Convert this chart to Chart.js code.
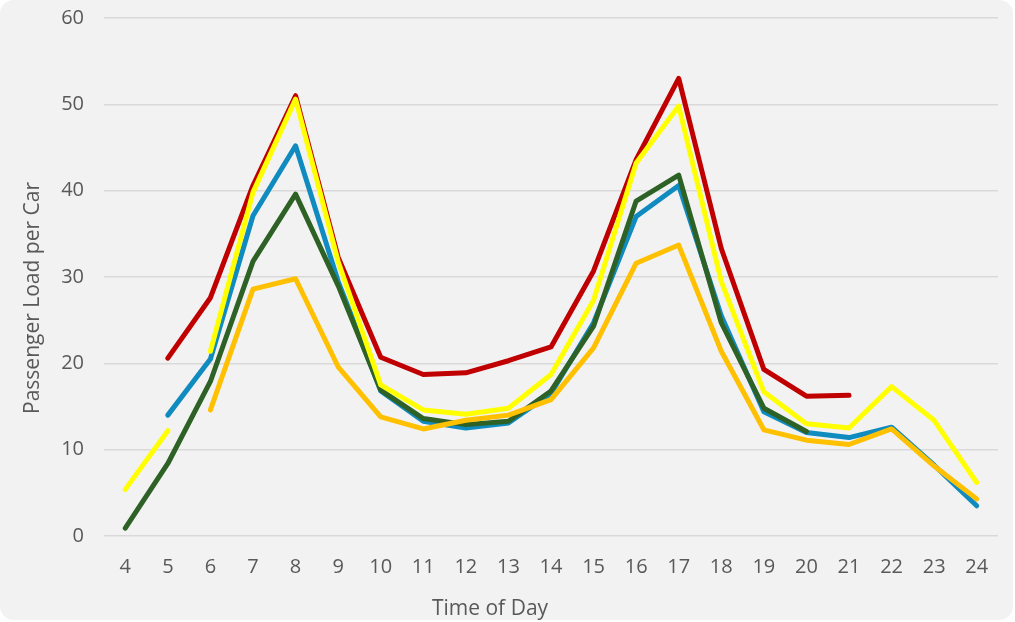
<!DOCTYPE html>
<html>
<head>
<meta charset="utf-8">
<script src="https://cdn.jsdelivr.net/npm/chart.js@4/dist/chart.umd.min.js"></script>
<style>
  html, body { margin: 0; padding: 0; background: #ffffff; }
  #wrap { position: relative; width: 1013px; height: 620px; background: #F2F2F2; border-radius: 14px; overflow: hidden; }
  canvas { display: block; }
</style>
</head>
<body>
<div id="wrap"><canvas id="c" width="1013" height="620"></canvas></div>
<script>
// ---- data ----
const hours = ['4','5','6','7','8','9','10','11','12','13','14','15','16','17','18','19','20','21','22','23','24'];
const yTicks = [0, 10, 20, 30, 40, 50, 60];
const xTitle = 'Time of Day';
const yTitle = 'Passenger Load per Car';

const redLoad    = [null, 20.6, 27.6, 40.6, 51.0, 32.3, 20.7, 18.7, 18.9, 20.3, 21.9, 30.7, 43.6, 53.0, 33.3, 19.3, 16.2, 16.3, null, null, null];
const yellowEarly= [5.4, 12.2, null, null, null, null, null, null, null, null, null, null, null, null, null, null, null, null, null, null, null];
const yellowLoad = [null, null, 21.4, 39.8, 50.6, 31.8, 17.5, 14.6, 14.1, 14.8, 18.7, 27.3, 43.2, 49.8, 29.5, 16.7, 13.0, 12.5, 17.3, 13.4, 6.2];
const blueLoad   = [null, 14.0, 20.5, 37.1, 45.2, 29.5, 16.8, 13.3, 12.5, 13.1, 16.5, 24.7, 37.0, 40.6, 25.5, 14.4, 12.0, 11.4, 12.6, 8.2, 3.5];
const greenLoad  = [0.9, 8.4, 17.9, 31.8, 39.6, 29.0, 16.9, 13.6, 12.9, 13.3, 16.8, 24.3, 38.8, 41.8, 24.7, 14.8, 12.1, null, null, null, null];
const orangeLoad = [null, null, 14.6, 28.6, 29.8, 19.6, 13.8, 12.4, 13.4, 14.0, 15.8, 21.8, 31.6, 33.7, 21.4, 12.3, 11.1, 10.6, 12.4, 8.1, 4.3];

const FONT = "'Open Sans', 'Noto Sans', sans-serif";
const TEXT = '#595959';

function ds(label, data, color, order) {
  return {
    label, data, borderColor: color, backgroundColor: color,
    borderWidth: 5, pointRadius: 0, pointHoverRadius: 0, tension: 0,
    borderCapStyle: 'round', borderJoinStyle: 'round', spanGaps: false, order
  };
}

const titlePlugin = {
  id: 'titles',
  afterDraw(chart) {
    const ctx = chart.ctx;
    ctx.save();
    ctx.fillStyle = TEXT;
    ctx.font = "21px " + FONT;
    ctx.textAlign = 'center';
    ctx.textBaseline = 'alphabetic';
    ctx.fillText(xTitle, 490, 615);
    ctx.translate(39, 298);
    ctx.rotate(-Math.PI / 2);
    ctx.fillText(yTitle, 0, 0);
    ctx.restore();
  }
};

new Chart(document.getElementById('c'), {
  type: 'line',
  data: {
    labels: hours,
    datasets: [
      ds('Red', redLoad, '#C00000', 5),
      ds('Blue', blueLoad, '#0F8BBF', 4),
      ds('Green', greenLoad, '#2E6125', 3),
      ds('Yellow', yellowLoad, '#FFFF00', 2),
      ds('Yellow early', yellowEarly, '#FFFF00', 2),
      ds('Orange', orangeLoad, '#FFC000', 1)
    ]
  },
  options: {
    responsive: false,
    animation: false,
    events: [],
    layout: { autoPadding: false, padding: { top: 18, right: 15, left: 0, bottom: 0 } },
    plugins: { legend: { display: false }, tooltip: { enabled: false }, title: { display: false } },
    scales: {
      x: {
        type: 'category',
        offset: true,
        grid: { display: false, drawTicks: false },
        border: { display: false },
        ticks: { color: TEXT, font: { family: FONT, size: 20 }, padding: 19, maxRotation: 0, autoSkip: false },
        afterFit(s) { s.height = 84; s.paddingLeft = 0; s.paddingRight = 0; }
      },
      y: {
        min: 0, max: 60,
        afterBuildTicks(s) { s.ticks = yTicks.map(v => ({ value: v })); },
        grid: { color: '#D9D9D9', lineWidth: 1.5, drawTicks: false },
        border: { display: false },
        ticks: { color: TEXT, font: { family: FONT, size: 20 }, padding: 20 },
        afterFit(s) { s.width = 104; s.paddingTop = 0; s.paddingBottom = 0; }
      }
    }
  },
  plugins: [titlePlugin]
});
</script>
</body>
</html>
